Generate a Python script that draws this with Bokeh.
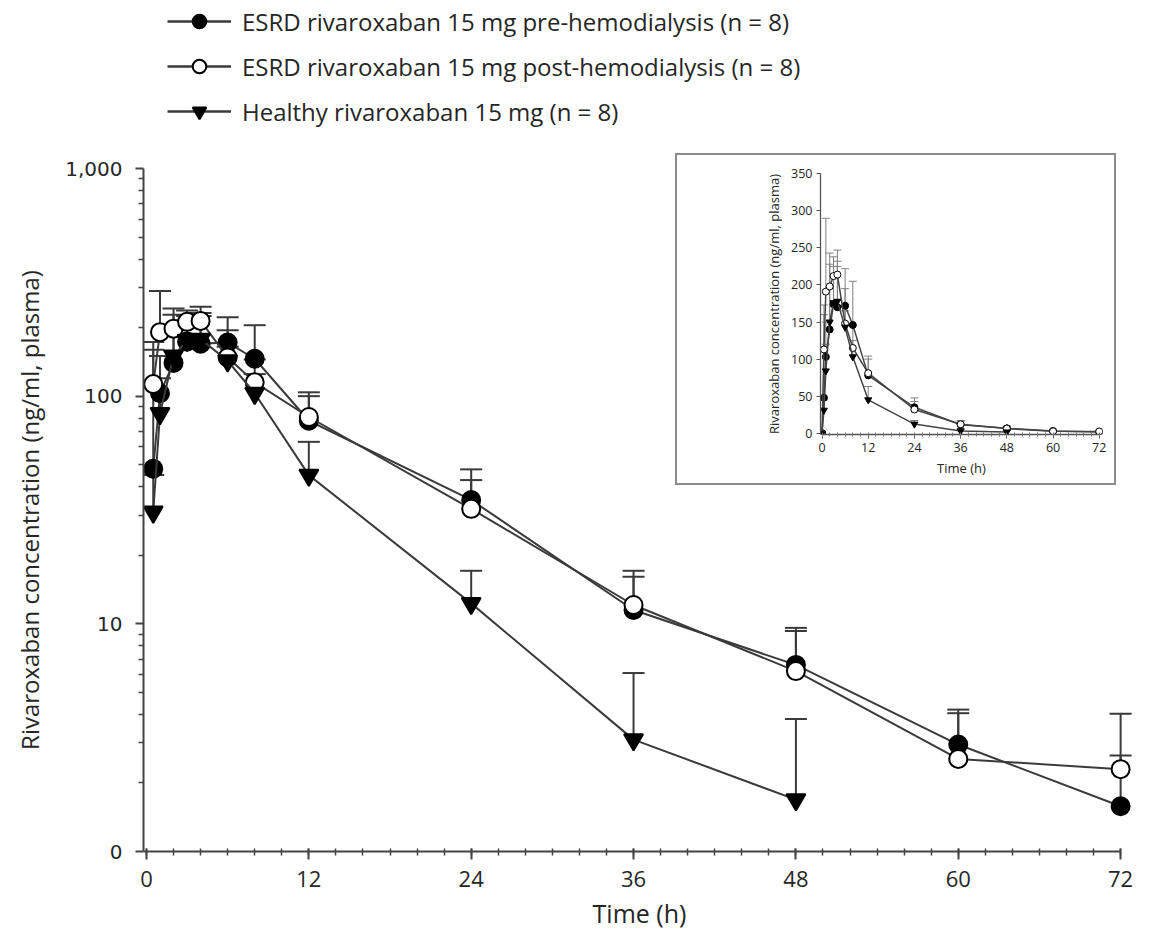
from bokeh.plotting import figure
from bokeh.layouts import column
from bokeh.models import (Range1d, FixedTicker, Whisker, TeeHead, ColumnDataSource,
                          Legend, LegendItem)
from bokeh.embed import file_html
from bokeh.resources import INLINE

# ---------------- data ----------------
time_h = [0, 0.5, 1, 2, 3, 4, 6, 8, 12, 24, 36, 48, 60, 72]
pre_mean = [0, 48, 103, 140, 174, 170, 172, 146, 78, 35, 11.5, 6.6, 2.95, 1.58]
pre_upper = [0, 160, 150, 195, 225, 232, 222, 205, 100, 47.7, 17.1, 9.6, 4.2, 2.64]
post_mean = [0, 113, 191, 198, 212, 214, 148, 115, 81, 32, 12.1, 6.2, 2.55, 2.3]
post_upper = [0, 173, 290, 243, 238, 247, 195, 145, 104, 42.8, 16.1, 9.3, 4.05, 4.03]
healthy_time = [0, 0.5, 1, 2, 3, 4, 6, 8, 12, 24, 36, 48]
healthy_mean = [0, 31, 84, 150, 176, 178, 143, 103, 45, 12.3, 3.1, 1.69]
healthy_upper = [0, 45, 120, 228, 215, 225, 165, 125, 63, 17.1, 6.08, 3.82]

x_ticks = [0, 12, 24, 36, 48, 60, 72]
log_ticks = [1, 10, 100, 1000]
log_tick_labels = ["0", "10", "100", "1,000"]
lin_ticks = [0, 50, 100, 150, 200, 250, 300, 350]

labels = ["ESRD rivaroxaban 15 mg pre-hemodialysis (n = 8)",
          "ESRD rivaroxaban 15 mg post-hemodialysis (n = 8)",
          "Healthy rivaroxaban 15 mg (n = 8)"]

FONT = "Open Sans"
INK = "#262626"
LINE = "#3a3a3a"

series = [
    (time_h, pre_mean, pre_upper, "circle", "black"),
    (time_h, post_mean, post_upper, "circle", "white"),
    (healthy_time, healthy_mean, healthy_upper, "inverted_triangle", "black"),
]

# ---------------- main (log) chart ----------------
p = figure(width=1151, height=936, y_axis_type="log",
           x_range=Range1d(-0.22, 73.1), y_range=Range1d(1, 1000),
           output_backend="svg", toolbar_location=None,
           min_border_left=143, min_border_right=16,
           min_border_top=168, min_border_bottom=85)
p.xgrid.visible = False
p.ygrid.visible = False
p.outline_line_color = None
p.background_fill_color = "white"
p.border_fill_color = "white"

minor_log = [m * 10 ** e for e in range(0, 3) for m in range(2, 10)]
p.yaxis.ticker = FixedTicker(ticks=log_ticks, minor_ticks=minor_log)
p.yaxis.major_label_overrides = {t: l for t, l in zip(log_ticks, log_tick_labels)}
p.xaxis.ticker = FixedTicker(ticks=x_ticks, minor_ticks=list(range(0, 73, 2)))
p.xaxis.bounds = (-0.22, 72)

for ax in (p.xaxis[0], p.yaxis[0]):
    ax.axis_line_color = "#444444"
    ax.axis_line_width = 2
    ax.major_tick_line_color = "#444444"
    ax.minor_tick_line_color = "#444444"
    ax.major_tick_line_width = 2
    ax.minor_tick_line_width = 1.5
    ax.major_label_text_color = INK
    ax.axis_label_text_color = INK
    ax.axis_label_text_font_style = "normal"
    ax.axis_label_text_font = FONT

p.yaxis.major_label_text_font = "DejaVu Sans"
p.yaxis.major_label_text_font_size = "20px"
p.yaxis.major_tick_out = 8
p.yaxis.major_tick_in = 0
p.yaxis.minor_tick_out = 5
p.yaxis.minor_tick_in = 0
p.yaxis.major_label_standoff = 13
p.yaxis.axis_label = "Rivaroxaban concentration (ng/ml, plasma)"
p.yaxis.axis_label_text_font_size = "24px"
p.yaxis.axis_label_standoff = 16

p.xaxis.major_label_text_font = FONT
p.xaxis.major_label_text_font_size = "22px"
p.xaxis.major_tick_out = 8
p.xaxis.major_tick_in = 3
p.xaxis.minor_tick_out = 4
p.xaxis.minor_tick_in = 3
p.xaxis.major_label_standoff = 11
p.xaxis.axis_label = "Time (h)"
p.xaxis.axis_label_text_font_size = "25px"
p.xaxis.axis_label_standoff = 6

srcs = []
for (t, m, u, mk, fill) in series:
    src = ColumnDataSource(dict(t=t[1:], mean=m[1:], upper=u[1:]))
    p.add_layout(Whisker(source=src, base="t", upper="upper", lower="mean",
                         dimension="height", line_color=LINE, line_width=2,
                         upper_head=TeeHead(size=22, line_color=LINE, line_width=2),
                         lower_head=None))
    srcs.append((src, mk, fill))

for (src, mk, fill) in srcs:
    p.line("t", "mean", source=src, line_color=LINE, line_width=2)
    p.scatter("t", "mean", source=src, marker=mk, size=18 if mk == "circle" else 19,
              fill_color=fill, line_color="black", line_width=2)

# ---------------- legend (own transparent canvas above the chart) ----------------
lg = figure(width=1151, height=140, x_range=Range1d(-1000, -999), y_range=Range1d(-1000, -999),
            output_backend="svg", toolbar_location=None,
            x_axis_location=None, y_axis_location=None,
            min_border=0, min_border_left=0, min_border_right=0,
            min_border_top=0, min_border_bottom=0)
lg.styles = {"position": "absolute", "left": "0px", "top": "0px"}
lg.xgrid.visible = False
lg.ygrid.visible = False
lg.outline_line_color = None
lg.background_fill_alpha = 0
lg.border_fill_alpha = 0
legend_items = []
for (src, mk, fill), lab in zip(srcs, labels):
    ln = lg.line("t", "mean", source=src, line_color=LINE, line_width=2.5)
    sc = lg.scatter("t", "mean", source=src, marker=mk, size=17 if mk == "circle" else 18,
                    fill_color=fill, line_color="black", line_width=2)
    legend_items.append(LegendItem(label=lab, renderers=[ln, sc]))
legend = Legend(items=legend_items, location=(24, 12), orientation="vertical",
                label_text_font=FONT, label_text_font_size="24px", label_text_color=INK,
                glyph_width=64, glyph_height=34, label_height=34, label_standoff=11,
                spacing=11, padding=0, margin=0,
                border_line_color=None, background_fill_alpha=0)
lg.add_layout(legend)

# ---------------- inset (linear) chart ----------------
ins = figure(width=441, height=332,
             x_range=Range1d(-0.39, 72.85), y_range=Range1d(-1.75, 350.4),
             output_backend="svg", toolbar_location=None,
             min_border_left=58, min_border_right=12,
             min_border_top=18, min_border_bottom=53)
ins.styles = {"position": "absolute", "left": "675px", "top": "153px",
              "border": "2px solid #8c8c8c"}
ins.xgrid.visible = False
ins.ygrid.visible = False
ins.outline_line_color = None
ins.background_fill_color = "white"
ins.border_fill_color = "white"
ins.xaxis.ticker = FixedTicker(ticks=x_ticks, minor_ticks=list(range(0, 73, 2)))
ins.yaxis.ticker = FixedTicker(ticks=lin_ticks, minor_ticks=[])
ins.xaxis.bounds = (0, 72)
ins.yaxis.bounds = (0, 350)
for ax in (ins.xaxis[0], ins.yaxis[0]):
    ax.axis_line_color = "#555555"
    ax.axis_line_width = 1.3
    ax.major_tick_line_color = "#555555"
    ax.minor_tick_line_color = "#777777"
    ax.major_tick_out = 4
    ax.major_tick_in = 0
    ax.minor_tick_out = 2
    ax.minor_tick_in = 2
    ax.major_label_text_font = FONT
    ax.major_label_text_font_size = "12.5px"
    ax.major_label_text_color = INK
    ax.major_label_standoff = 4
    ax.axis_label_text_font = FONT
    ax.axis_label_text_font_size = "13px"
    ax.axis_label_text_font_style = "normal"
    ax.axis_label_text_color = INK
ins.xaxis.axis_label = "Time (h)"
ins.xaxis.axis_label_standoff = 4
ins.yaxis.axis_label = "Rivaroxaban concentration (ng/ml, plasma)"
ins.yaxis.axis_label_standoff = 5

for t, m, u, mk, fill in series:
    src = ColumnDataSource(dict(t=t, mean=m, upper=u))
    ins.add_layout(Whisker(source=src, base="t", upper="upper", lower="mean",
                           dimension="height", line_color="#808080", line_width=1,
                           upper_head=TeeHead(size=8, line_color="#808080", line_width=1),
                           lower_head=None))
for t, m, u, mk, fill in series:
    src = ColumnDataSource(dict(t=t, mean=m))
    ins.line("t", "mean", source=src, line_color="#444444", line_width=1.5)
    ins.scatter("t", "mean", source=src, marker=mk, size=7,
                fill_color=fill, line_color="black", line_width=1)

layout = column(p, ins, lg)
open("out.html", "w").write(file_html(layout, INLINE))
